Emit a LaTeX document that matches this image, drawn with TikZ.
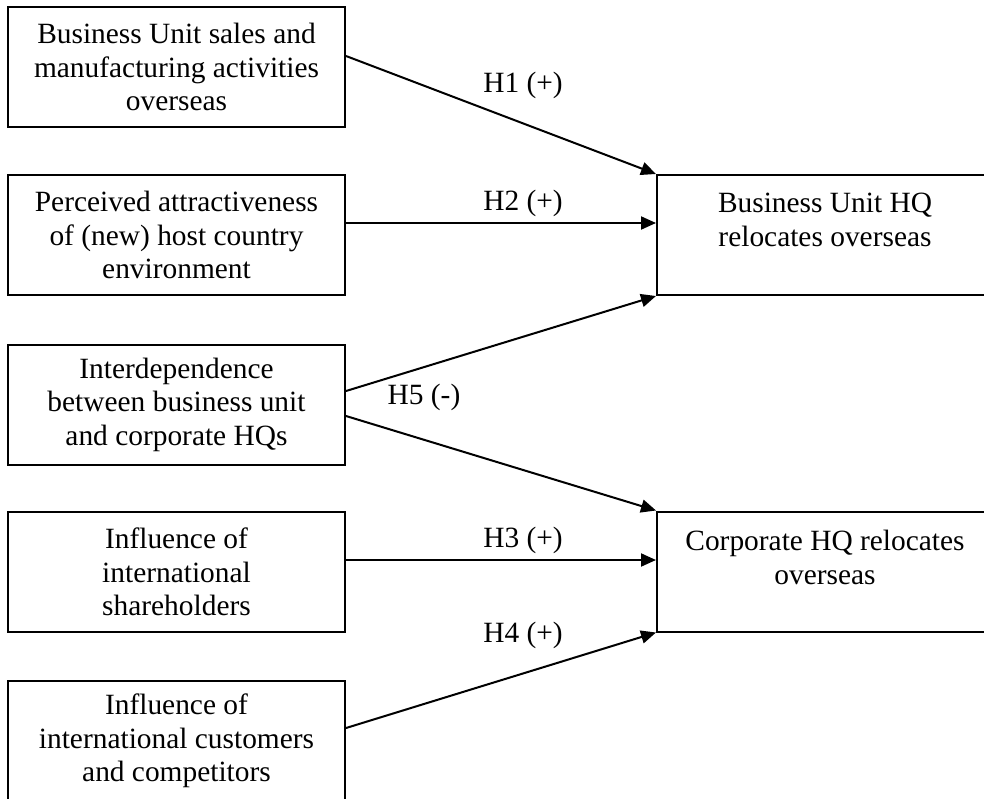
\documentclass[tikz,border=0pt]{standalone}
\usepackage{fontspec}
\setmainfont{Liberation Serif}
\usetikzlibrary{arrows.meta}
\begin{document}
\begin{tikzpicture}[x=1pt,y=-1pt,
  box/.style={draw, line width=2pt, minimum width=337pt, minimum height=120pt, inner sep=0pt, align=center, font=\fontsize{29.4}{33.5}\selectfont},
  rbox/.style={draw, line width=2pt, minimum width=336pt, minimum height=120pt, inner sep=0pt},
  txt/.style={inner sep=0pt, align=center, font=\fontsize{29.4}{33.5}\selectfont},
  lab/.style={inner sep=0pt, font=\fontsize{29.4}{33.5}\selectfont},
  arr/.style={line width=2pt, -{Triangle[length=15pt,width=13pt]}}
]
\useasboundingbox (0,0) rectangle (984,798);
% left boxes
\node[box] (b1) at (176.5,67) {Business Unit sales and\\manufacturing activities\\overseas};
\node[box] (b2) at (176.5,235) {Perceived attractiveness\\of (new) host country\\environment};
\node[box] (b3) at (176.5,404.5) {Interdependence\\between business unit\\and corporate HQs};
\node[box] (b4) at (176.5,572) {Influence of\\international\\shareholders};
\node[box] (b5) at (176.5,741) {Influence of\\international customers\\and competitors};
% right boxes
\node[rbox] (ba) at (825,235) {};
\node[rbox] (bb) at (825,571.5) {};
\node[txt, anchor=north] (ta) at (825,193) {Business Unit HQ\\relocates overseas};
\node[txt, anchor=north] (tb) at (825,530) {Corporate HQ relocates\\overseas};
% connector start points
\coordinate (s1) at ([yshift=11pt]b1.east);
\coordinate (s2) at ([yshift=12pt]b2.east);
\coordinate (s5a) at ([yshift=13.5pt]b3.east);
\coordinate (s5b) at ([yshift=-11.5pt]b3.east);
\coordinate (s3) at ([yshift=12pt]b4.east);
\coordinate (s4) at ([yshift=13pt]b5.east);
% connectors
\draw[arr] (s1) -- (ba.north west);
\draw[arr] (s2) -- (s2 -| ba.west);
\draw[arr] (s5a) -- (ba.south west);
\draw[arr] (s5b) -- (bb.north west);
\draw[arr] (s3) -- (s3 -| bb.west);
\draw[arr] (s4) -- (bb.south west);
% labels
\node[lab] (l1) at (523,85) {H1 (+)};
\node[lab] (l2) at (523,203.5) {H2 (+)};
\node[lab] (l5) at (424,397.5) {H5 (-)};
\node[lab] (l3) at (523,540) {H3 (+)};
\node[lab] (l4) at (523,635) {H4 (+)};
\end{tikzpicture}
\end{document}
